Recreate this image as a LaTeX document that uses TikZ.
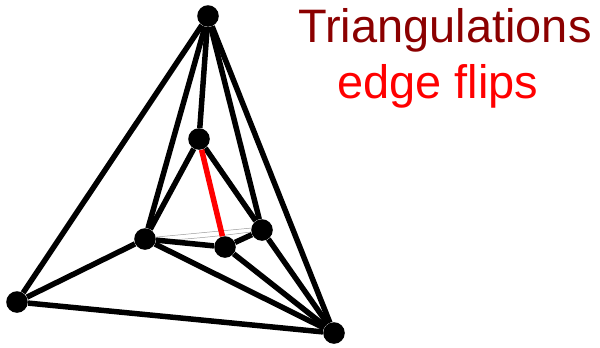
\documentclass[tikz,border=0pt]{standalone}
\usepackage{fontspec}
\setmainfont{Liberation Sans}
\usepackage{tikz}
\definecolor{titlered}{RGB}{139, 0, 0}
\tikzset{
    vertex/.style={circle, fill=black, inner sep=0pt, minimum size=0.54cm},
    edge/.style={line width=3.9pt, black},
    flipedge/.style={line width=3.9pt, red},
    ghostedge/.style={line width=0.35pt, black!40},
    caption/.style={inner sep=0pt, anchor=base, font=\fontsize{33.4pt}{36pt}\selectfont}
}

\begin{document}
\begin{tikzpicture}
    \useasboundingbox (0,0) rectangle (15,8.675);

    % Vertices of the triangulation
    \node[vertex] (apex) at (5.2,8.275) {};
    \node[vertex] (inner) at (4.975,5.2) {};
    \node[vertex] (left) at (3.625,2.7) {};
    \node[vertex] (mid) at (5.625,2.5) {};
    \node[vertex] (right) at (6.55,2.925) {};
    \node[vertex] (outerL) at (0.425,1.125) {};
    \node[vertex] (outerR) at (8.35,0.35) {};

    % Faint traces of the old edge
    \draw[ghostedge] (left.10) -- (right.170);
    \draw[ghostedge] (left.350) to[bend right=2] (right.190);

    % Edges
    \foreach \from/\to in {apex/outerL, apex/left, apex/inner, apex/right, apex/outerR,
        inner/left, inner/right, left/mid, mid/right, left/outerL,
        outerL/outerR, left/outerR, mid/outerR, right/outerR}
        \draw[edge] (\from) -- (\to);
    \draw[flipedge] (inner) -- (mid);

    % Labels
    \node[caption, text=titlered] (title) at (11.125,7.625) {Triangulations};
    \node[caption, text=red] (subtitle) at (10.95,6.225) {edge flips};
\end{tikzpicture}
\end{document}
